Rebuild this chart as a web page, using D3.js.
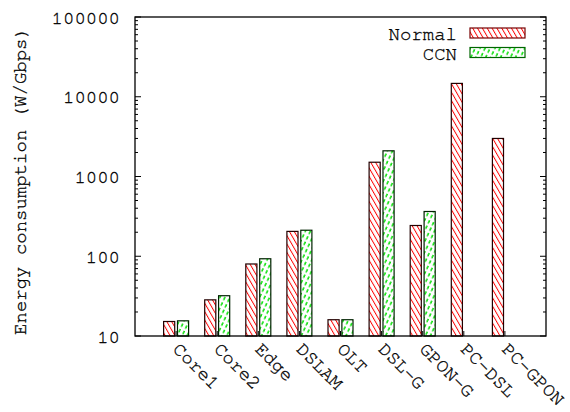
<!DOCTYPE html>
<html><head><meta charset="utf-8">
<script src="https://cdn.jsdelivr.net/npm/d3@7"></script>
<style>body{margin:0;background:#fff}svg{display:block}text{font-family:"Nimbus Mono PS","Nimbus Mono L","FreeMono","Courier New","Liberation Mono",monospace;fill:#000;stroke:#000;stroke-width:0.3px}</style>
</head><body>
<script>
const categories = ["Core1","Core2","Edge","DSLAM","OLT","DSL-G","GPON-G","PC-DSL","PC-GPON"];
const normalValues = [15.2, 28.4, 80, 205, 16, 1510, 243, 14700, 3000];
const ccnValues = [15.5, 32, 93, 212, 16, 2100, 364, null, null];
const seriesNames = ["Normal","CCN"];
const yTickValues = [10, 100, 1000, 10000, 100000];

const W = 570, H = 412;
const m = {left:135, right:546, top:17, bottom:336};
const fs = 19;

const svg = d3.select("body").append("svg").attr("width",W).attr("height",H);
const defs = svg.append("defs");
const p1 = defs.append("pattern").attr("id","pNormal").attr("patternUnits","userSpaceOnUse")
  .attr("width",4.2).attr("height",4.2).attr("patternTransform","rotate(-30)");
p1.append("rect").attr("width",4.2).attr("height",4.2).attr("fill","#fff");
p1.append("line").attr("x1",0).attr("y1",0).attr("x2",0).attr("y2",4.2).attr("stroke","#f00").attr("stroke-width",1.9);
const p2 = defs.append("pattern").attr("id","pCCN").attr("patternUnits","userSpaceOnUse")
  .attr("width",4.5).attr("height",6).attr("patternTransform","rotate(25)");
p2.append("rect").attr("width",4.5).attr("height",6).attr("fill","#fff");
p2.append("line").attr("x1",1).attr("y1",0).attr("x2",1).attr("y2",3.5).attr("stroke","#00e000").attr("stroke-width",1.5);

const x = d3.scaleLinear().domain([-1, categories.length]).range([m.left, m.right]);
const inner = d3.scaleBand().domain(seriesNames).range([-12.5, 12.5]).paddingInner(0.2);
const y = d3.scaleLog().domain([10, 100000]).range([m.bottom, m.top]);

const fills = {Normal:"url(#pNormal)", CCN:"url(#pCCN)"};
const strokes = {Normal:"#200", CCN:"#020"};
const data = [];
categories.forEach((c,i)=>{
  if (normalValues[i]!=null) data.push({i, s:"Normal", v:normalValues[i]});
  if (ccnValues[i]!=null) data.push({i, s:"CCN", v:ccnValues[i]});
});

svg.append("g").selectAll("rect").data(data).join("rect")
  .attr("x", d => x(d.i) + inner(d.s))
  .attr("width", inner.bandwidth())
  .attr("y", d => y(d.v))
  .attr("height", d => m.bottom - y(d.v))
  .attr("fill", d => fills[d.s])
  .attr("stroke", d => strokes[d.s]).attr("stroke-width",1.2);

const minor = [];
for (let e=1;e<5;e++) for (let k=2;k<=9;k++) minor.push(k*Math.pow(10,e));
const ax = svg.append("g").attr("stroke","#000").attr("stroke-width",1);
minor.forEach(v=>{
  ax.append("line").attr("x1",m.left).attr("x2",m.left+3).attr("y1",y(v)).attr("y2",y(v));
  ax.append("line").attr("x1",m.right).attr("x2",m.right-3).attr("y1",y(v)).attr("y2",y(v));
});
yTickValues.forEach(v=>{
  ax.append("line").attr("x1",m.left).attr("x2",m.left+6).attr("y1",y(v)).attr("y2",y(v));
  ax.append("line").attr("x1",m.right).attr("x2",m.right-6).attr("y1",y(v)).attr("y2",y(v));
});
categories.forEach((c,i)=>{
  ax.append("line").attr("x1",x(i)).attr("x2",x(i)).attr("y1",m.bottom).attr("y2",m.bottom-5);
});
svg.append("rect").attr("x",m.left).attr("y",m.top).attr("width",m.right-m.left).attr("height",m.bottom-m.top)
  .attr("fill","none").attr("stroke","#000").attr("stroke-width",1.3);

svg.append("g").selectAll("text").data(yTickValues).join("text")
  .attr("x",120).attr("y",d=>y(d)).attr("dy","0.35em").attr("text-anchor","end")
  .attr("font-size",fs).text(d=>d);

svg.append("g").selectAll("text").data(categories).join("text")
  .attr("transform",(d,i)=>`translate(${x(i)-4},${350}) rotate(45)`)
  .attr("text-anchor","start").attr("font-size",fs).text(d=>d);

svg.append("text").attr("transform","translate(26,181) rotate(-90)")
  .attr("text-anchor","middle").attr("font-size",fs).text("Energy consumption (W/Gbps)");

const lg = svg.append("g");
seriesNames.forEach((s,k)=>{
  const yy = 28 + k*19.5;
  lg.append("text").attr("x",457).attr("y",yy+12).attr("text-anchor","end").attr("font-size",fs).text(s);
  lg.append("rect").attr("x",470).attr("y",yy).attr("width",55).attr("height",10)
    .attr("fill",fills[s]).attr("stroke",s==="Normal"?"#700":"#060").attr("stroke-width",1.2);
});
</script>
</body></html>
